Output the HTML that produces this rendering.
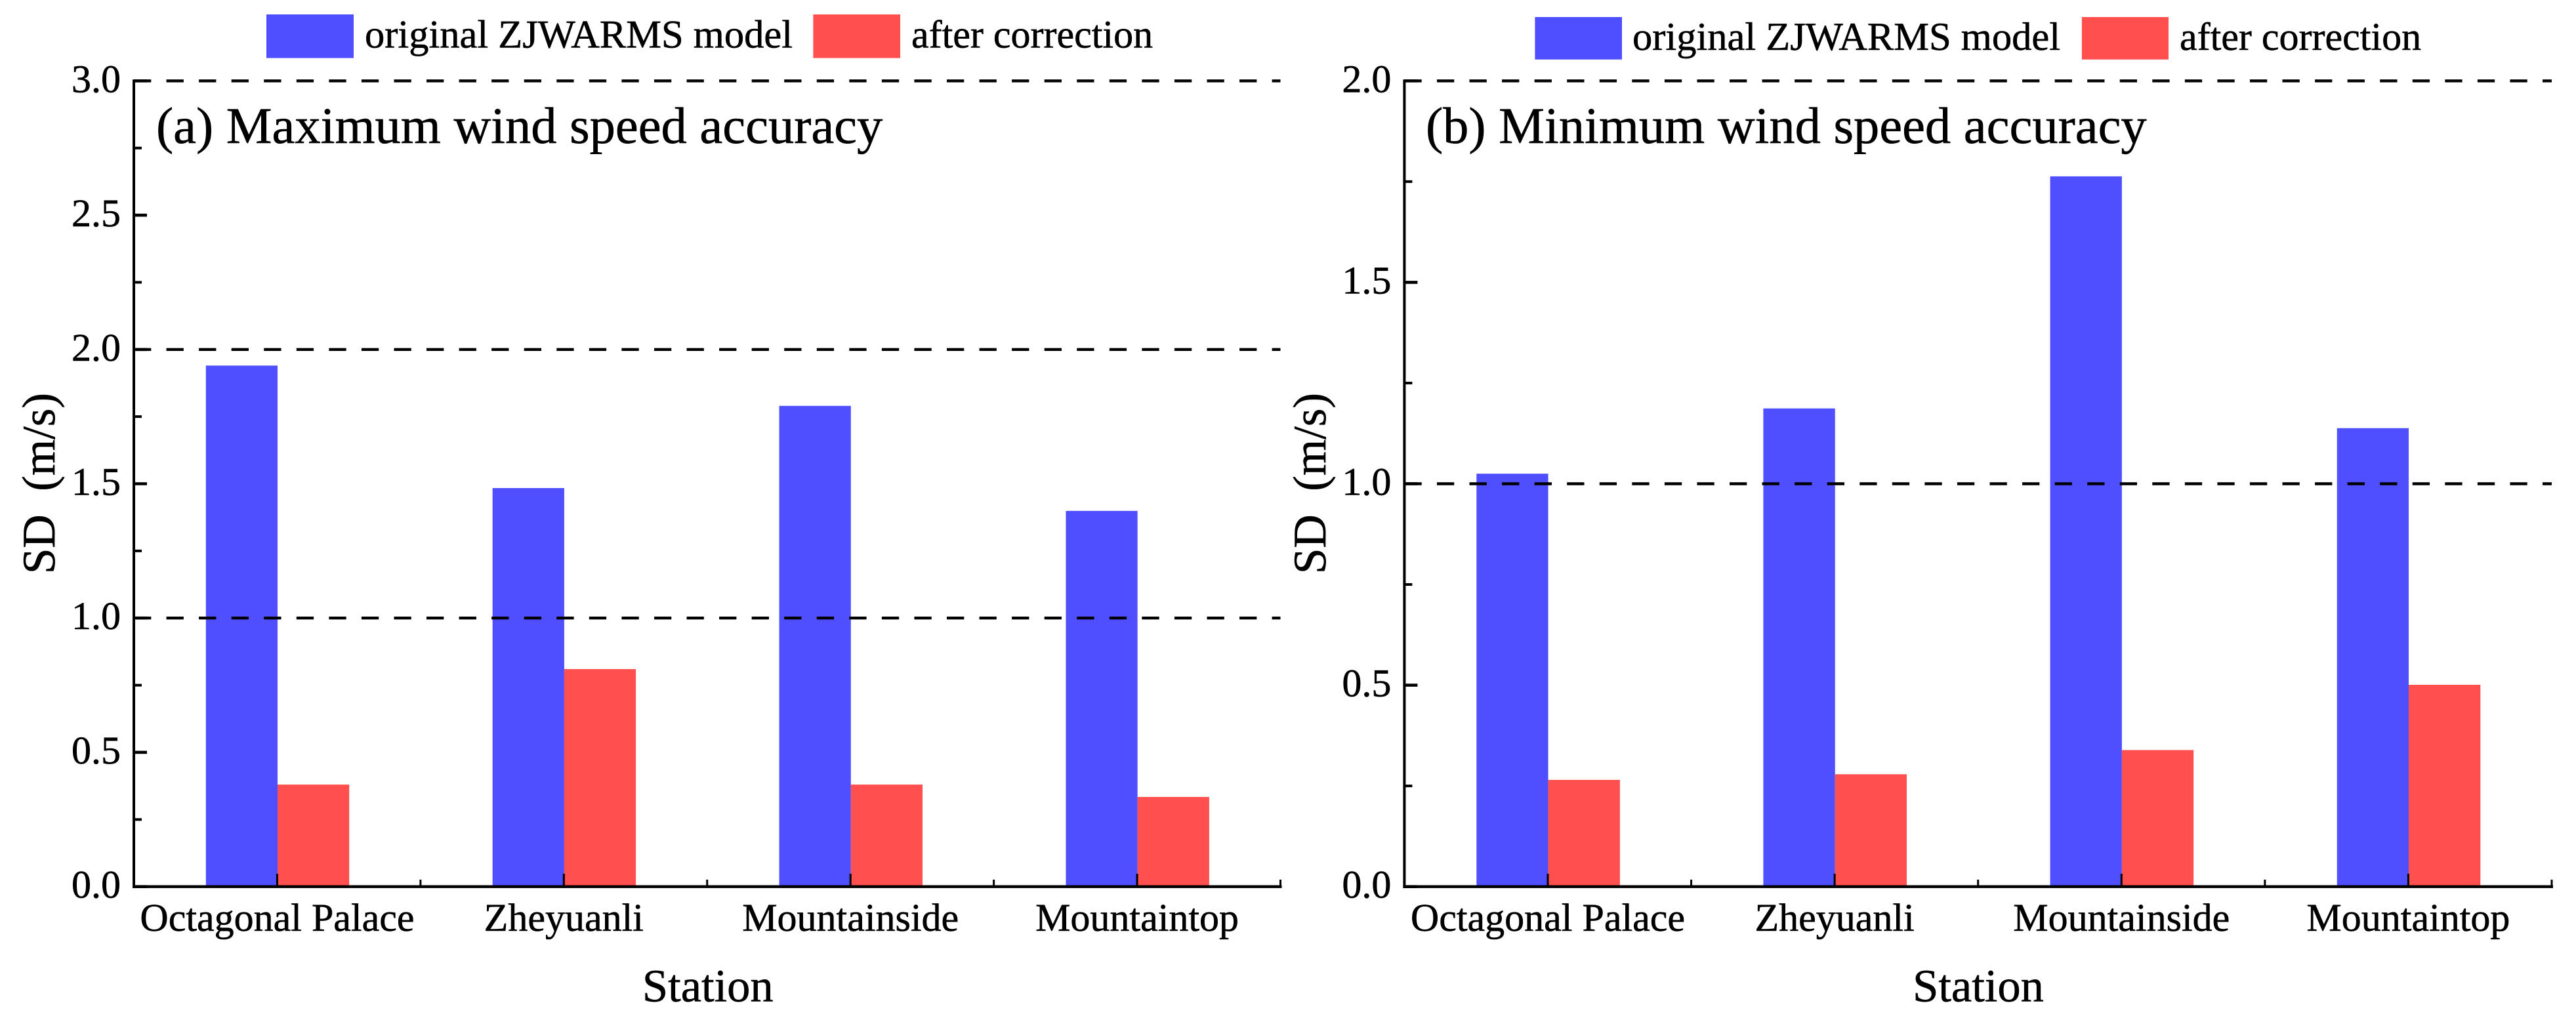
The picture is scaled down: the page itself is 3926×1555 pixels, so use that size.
<!DOCTYPE html>
<html lang="en">
<head>
<meta charset="utf-8">
<title>Maximum and minimum wind speed accuracy</title>
<style>
html,body{margin:0;padding:0;background:#fff;width:3926px;height:1555px;overflow:hidden}
svg{display:block}
text{font-family:"Liberation Serif","Times New Roman",serif;fill:#000;stroke:#000;stroke-width:.6px;text-rendering:geometricPrecision}
</style>
</head>
<body>
<svg id="figure" xmlns="http://www.w3.org/2000/svg" width="3926" height="1555" viewBox="0 0 3926 1555">
  <rect x="0" y="0" width="3926" height="1555" fill="#fff"/>
  <g id="panel-a"></g>
  <g id="panel-b"></g>

  <g>
    <rect x="406" y="22" width="133" height="66.5" fill="#4f4fff"/>
    <text x="556" y="72.7" font-size="60.5">original ZJWARMS model</text>
    <rect x="1239.4" y="22" width="132.6" height="66.5" fill="#ff4f4f"/>
    <text x="1389" y="72.7" font-size="60">after correction</text>
  </g>
  <g>
    <rect x="2339.4" y="26" width="132.6" height="64.7" fill="#4f4fff"/>
    <text x="2488" y="76" font-size="60.5">original ZJWARMS model</text>
    <rect x="3172.9" y="26" width="132.1" height="64.7" fill="#ff4f4f"/>
    <text x="3322" y="76" font-size="60">after correction</text>
  </g>

  <text x="238" y="218" font-size="78.5">(a) Maximum wind speed accuracy</text>
  <text x="2173" y="218" font-size="78.5">(b) Minimum wind speed accuracy</text>

  <text x="1078.8" y="1526.7" font-size="70.5" text-anchor="middle">Station</text>
  <text x="3015" y="1526.7" font-size="70.5" text-anchor="middle">Station</text>

  <text transform="translate(83 737) rotate(-90)" font-size="71" text-anchor="middle" xml:space="preserve">SD&#160;&#160;(m/s)</text>
  <text transform="translate(2020 737) rotate(-90)" font-size="71" text-anchor="middle" xml:space="preserve">SD&#160;&#160;(m/s)</text>
</svg>

<script>
const categories = ["Octagonal Palace", "Zheyuanli", "Mountainside", "Mountaintop"];

const maxOriginal = [1.94, 1.484, 1.79, 1.399];
const maxCorrected = [0.38, 0.81, 0.38, 0.334];
const maxTickLabels = ["0.0", "0.5", "1.0", "1.5", "2.0", "2.5", "3.0"];
const maxReferenceLines = [1, 2, 3];

const minOriginal = [1.025, 1.187, 1.763, 1.138];
const minCorrected = [0.265, 0.279, 0.339, 0.501];
const minTickLabels = ["0.0", "0.5", "1.0", "1.5", "2.0"];
const minReferenceLines = [1, 2];

const SVG_NS = "http://www.w3.org/2000/svg";

function shape(parent, tag, attrs) {
  const node = document.createElementNS(SVG_NS, tag);
  for (const key in attrs) node.setAttribute(key, attrs[key]);
  parent.appendChild(node);
  return node;
}

function drawPanel(opts) {
  const root = document.getElementById(opts.id);
  const axisLeft = opts.left;
  const axisRight = opts.right;
  const axisBottom = 1351.7;
  const axisTop = 123.3;
  const tickValues = opts.tickLabels.map(Number);
  const yMax = tickValues[tickValues.length - 1];
  const yScale = function (v) { return axisBottom - (v / yMax) * (axisBottom - axisTop); };
  const halfBand = (axisRight - axisLeft) / (categories.length * 2);
  const xScale = function (i) { return axisLeft + halfBand * (2 * i + 1); };
  const barWidth = halfBand / 2;

  categories.forEach(function (name, i) {
    const center = xScale(i) + 0.6;
    const topOriginal = yScale(opts.original[i]);
    const topCorrected = yScale(opts.corrected[i]);

    const barA = shape(root, "rect", { x: center - barWidth, y: topOriginal, width: barWidth, height: axisBottom - topOriginal, fill: "#4f4fff" });
    
    

    const barB = shape(root, "rect", { x: center, y: topCorrected, width: barWidth, height: axisBottom - topCorrected, fill: "#ff4f4f" });
    
    

    const label = shape(root, "text", { x: xScale(i), y: 1419, "font-size": 60, "text-anchor": "middle" });
    label.textContent = name;
    
    
  });

  opts.reference.forEach(function (v) {
    const ref = shape(root, "line", { x1: axisLeft, x2: axisRight, y1: yScale(v), y2: yScale(v), stroke: "#000", "stroke-width": 4.4, "stroke-dasharray": "26.3 23.26" });
    
    
  });

  const yAxis = shape(root, "line", { x1: axisLeft, x2: axisLeft, y1: axisTop - 2, y2: axisBottom + 2, stroke: "#000", "stroke-width": 4 });
  
  

  const xAxis = shape(root, "line", { x1: axisLeft - 2, x2: axisRight + 2, y1: axisBottom, y2: axisBottom, stroke: "#000", "stroke-width": 4.4 });
  
  

  opts.tickLabels.forEach(function (text, i) {
    const v = tickValues[i];
    const y = yScale(v);
    const tick = shape(root, "line", { x1: axisLeft, x2: axisLeft + 20, y1: y, y2: y, stroke: "#000", "stroke-width": 4.6 });
    
    

    const label = shape(root, "text", { x: axisLeft - 20, y: y + 17, "font-size": 60, "text-anchor": "end" });
    label.textContent = text;
    
    

    if (i < opts.tickLabels.length - 1) {
      const yMinor = yScale((v + tickValues[i + 1]) / 2);
      const minor = shape(root, "line", { x1: axisLeft, x2: axisLeft + 12, y1: yMinor, y2: yMinor, stroke: "#000", "stroke-width": 4 });
      
      
    }
  });

  for (let k = 1; k <= categories.length * 2; k++) {
    const x = axisLeft + halfBand * k;
    const isMajor = k % 2 === 1;
    const xTick = shape(root, "line", { x1: x, x2: x, y1: axisBottom, y2: isMajor ? 1332 : 1341, stroke: "#000", "stroke-width": 3 });
    
    
  }
}

drawPanel({ id: "panel-a", left: 204, right: 1951.5, original: maxOriginal, corrected: maxCorrected, tickLabels: maxTickLabels, reference: maxReferenceLines });
drawPanel({ id: "panel-b", left: 2140.4, right: 3889, original: minOriginal, corrected: minCorrected, tickLabels: minTickLabels, reference: minReferenceLines });
</script>
</body>
</html>
